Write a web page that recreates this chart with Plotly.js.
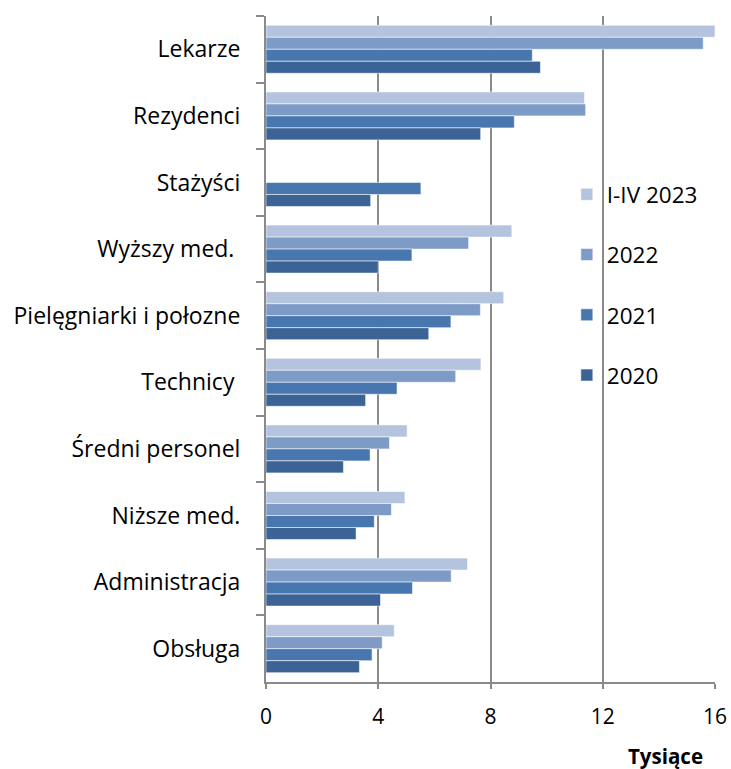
<!DOCTYPE html>
<html><head><meta charset="utf-8">
<script src="https://cdn.plot.ly/plotly-3.0.1.min.js"></script>
<style>body{margin:0;background:#fff}#c{width:731px;height:769px}</style>
</head><body><div id="c"></div>
<script>
const categories = ["Lekarze","Rezydenci","Stażyści","Wyższy med.\u00a0","Pielęgniarki i połozne","Technicy\u00a0","Średni personel","Niższe med.","Administracja","Obsługa"];
const seriesNames = ["I-IV 2023","2022","2021","2020"];
const v2023 = [16.0, 11.35, null, 8.76, 8.47, 7.66, 5.03, 4.95, 7.18, 4.57];
const v2022 = [15.58, 11.39, null, 7.22, 7.64, 6.76, 4.40, 4.47, 6.60, 4.14];
const v2021 = [9.49, 8.85, 5.52, 5.20, 6.59, 4.67, 3.71, 3.86, 5.22, 3.78];
const v2020 = [9.78, 7.65, 3.73, 4.00, 5.80, 3.55, 2.76, 3.21, 4.08, 3.33];
const xTicks = [0,4,8,12,16];
const colors = ["#B4C4DF","#7E9BC8","#4877B0","#3C6396"];
const values = [v2023, v2022, v2021, v2020];

const font = "Open Sans, Liberation Sans, Arial, sans-serif";
const traces = values.map((v,i)=>({
  type:"bar", orientation:"h", name:seriesNames[i], x:v, y:categories,
  legendgroup:"g"+i,
  marker:{color:colors[i], line:{color:"rgba(255,255,255,0.55)", width:1}},
  hoverinfo:"x+name"
}));
const layout = {
  width:731, height:769,
  margin:{l:266, r:16, t:16, b:87},
  paper_bgcolor:"#fff", plot_bgcolor:"#fff",
  barmode:"group", bargap:0.28, bargroupgap:0,
  font:{family:font, size:20, color:"#000"},
  xaxis:{range:[0,16], tickvals:xTicks, ticktext:xTicks.map(String),
    showgrid:true, gridcolor:"#8a8a8a", gridwidth:2,
    showline:true, linecolor:"#8a8a8a", linewidth:2,
    ticks:"outside", ticklen:5, tickcolor:"#8a8a8a", tickwidth:2,
    zeroline:false, tickfont:{size:21}, ticklabelstandoff:10, fixedrange:true},
  yaxis:{autorange:"reversed", showline:true, linecolor:"#8a8a8a", linewidth:2,
    ticks:"outside", tickson:"boundaries", ticklen:8, tickcolor:"#8a8a8a", tickwidth:2,
    showgrid:false, tickfont:{size:23}, ticklabelstandoff:19, fixedrange:true},
  legend:{x:0.67, y:0.764, xanchor:"left", yanchor:"top", bgcolor:"rgba(0,0,0,0)",
    font:{size:22.5}, tracegroupgap:28, traceorder:"grouped", itemwidth:30},
  showlegend:true,
  annotations:[{text:"<b>Tysiące</b>", xref:"paper", yref:"paper", x:0.89, y:-0.087,
    xanchor:"center", yanchor:"top", showarrow:false, font:{size:20.5}}]
};
Plotly.newPlot("c", traces, layout, {displayModeBar:false, staticPlot:true});
</script></body></html>
